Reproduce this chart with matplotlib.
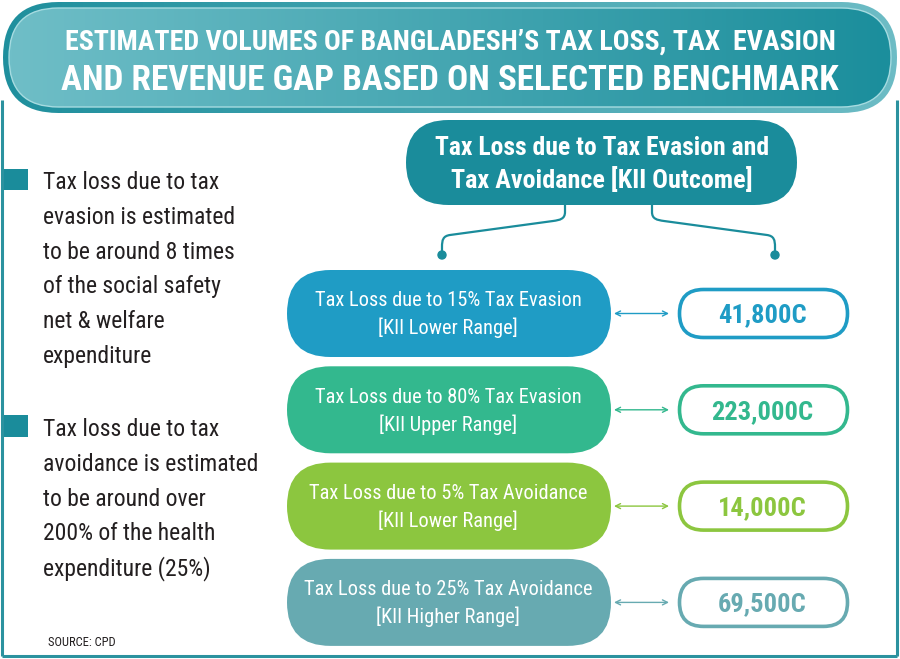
import numpy as np
import matplotlib
matplotlib.use("Agg")
import matplotlib.pyplot as plt
from matplotlib import font_manager
from matplotlib.patches import FancyBboxPatch, PathPatch, Rectangle, Circle
from matplotlib.path import Path
from matplotlib.colors import LinearSegmentedColormap

# ---- content ----
title_lines = ["ESTIMATED VOLUMES OF BANGLADESH\u2019S TAX LOSS, TAX  EVASION",
               "AND REVENUE GAP BASED ON SELECTED BENCHMARK"]
top_node = ["Tax Loss due to Tax Evasion and", "Tax Avoidance [KII Outcome]"]
row_titles = ["Tax Loss due to 15% Tax Evasion", "Tax Loss due to 80% Tax Evasion",
              "Tax Loss due to 5% Tax Avoidance", "Tax Loss due to 25% Tax Avoidance"]
row_ranges = ["[KII Lower Range]", "[KII Upper Range]", "[KII Lower Range]", "[KII Higher Range]"]
row_values = [41800, 223000, 14000, 69500]
row_colors = ["#1f9cc5", "#33b88e", "#8cc63f", "#67aab1"]
bullet_1 = ["Tax loss due to tax", "evasion is estimated", "to be around 8 times",
            "of the social safety", "net & welfare", "expenditure"]
bullet_2 = ["Tax loss due to tax", "avoidance is estimated", "to be around over",
            "200% of the health", "expenditure (25%)"]
source = "SOURCE: CPD"

teal = "#1a8c9b"
frame_c = "#2b929f"
ink = "#231f20"

# pick a narrow font if there is one
names = {f.name for f in font_manager.fontManager.ttflist}
FONT = "DejaVu Sans"
for cand in ["Liberation Sans Narrow", "DejaVu Sans Condensed", "Roboto Condensed",
             "Open Sans Condensed", "Roboto"]:
    if cand in names:
        FONT = cand
        break

fig = plt.figure(figsize=(9, 6.59), dpi=100)
ax = fig.add_axes([0, 0, 1, 1])
renderer = fig.canvas.get_renderer()


def fit_size(lines, size, width, weight="normal"):
    # largest size (up to `size`) at which the widest line is no wider than `width`
    t = ax.text(0, 0, "", fontsize=size, fontfamily=FONT, fontweight=weight)
    w = 0
    for s in lines:
        t.set_text(s)
        w = max(w, t.get_window_extent(renderer).width)
    t.remove()
    return min(size, size * width / w)


def put(x, y, s, size, width=None, exact=False, **kw):
    t = ax.text(x, y, s, fontsize=size, fontfamily=FONT, va="baseline", **kw)
    if width:
        w = t.get_window_extent(renderer).width
        new = size * width / w
        t.set_fontsize(new if exact else min(new, size * 1.1))
    return t


def pill(x, y, w, h, **kw):
    p = FancyBboxPatch((x, y), w, h, boxstyle="round,pad=0,rounding_size=%f" % (h / 2), **kw)
    ax.add_patch(p)
    return p


# ---- frame ----
ax.plot([2, 2], [100, 656], color=frame_c, lw=2.2, solid_capstyle="butt")
ax.plot([2, 897], [656, 656], color=frame_c, lw=2.2, solid_capstyle="butt")
ax.plot([897, 897], [100, 656], color=frame_c, lw=2.2, solid_capstyle="butt")

# ---- title banner ----
grad = np.linspace(0, 1, 256).reshape(1, -1)
outer = pill(3, 2, 894, 111, facecolor="none", edgecolor="none")
im = ax.imshow(grad, extent=(3, 897, 113, 2), aspect="auto",
               cmap=LinearSegmentedColormap.from_list("o", ["#1f8f9d", "#6dbcc5"]))
im.set_clip_path(outer)
inner = pill(9, 8, 882, 99, facecolor="none", edgecolor="#a6dbe0", lw=1.0, zorder=3)
im2 = ax.imshow(grad, extent=(9, 891, 107, 8), aspect="auto",
                cmap=LinearSegmentedColormap.from_list("i", ["#6fbec7", "#1b8e9c"]), zorder=2)
im2.set_clip_path(inner)
put(450, 50, title_lines[0], 23, width=773, exact=True, ha="center",
    color="white", fontweight="bold", zorder=4)
put(450, 90, title_lines[1], 28, width=778, exact=True, ha="center",
    color="white", fontweight="bold", zorder=4)

# ---- top node ----
pill(406, 120, 391, 85, facecolor=teal, edgecolor="none")
put(602, 155, top_node[0], 19, width=335, exact=True, ha="center", color="white", fontweight="bold")
put(602, 188, top_node[1], 19, width=302, exact=True, ha="center", color="white", fontweight="bold")

# connectors
for sx, ex in [(565, 442), (652, 775)]:
    d = -1 if ex < sx else 1
    verts = [(sx, 205), (sx, 212),
             (sx, 219), (sx + 5 * d, 220), (sx + 12 * d, 221),
             (ex - 8 * d, 235),
             (ex - 1 * d, 236), (ex, 240), (ex, 247),
             (ex, 255)]
    codes = [Path.MOVETO, Path.LINETO,
             Path.CURVE4, Path.CURVE4, Path.CURVE4,
             Path.LINETO,
             Path.CURVE4, Path.CURVE4, Path.CURVE4,
             Path.LINETO]
    ax.add_patch(PathPatch(Path(verts, codes), facecolor="none", edgecolor=teal, lw=1.6))
    ax.add_patch(Circle((ex, 255), 4, color=teal))

# ---- rows ----
row_top = 270
row_h = 87
row_step = 96.3
pill_fs = fit_size(row_titles + row_ranges, 18, 288)
val_fs = fit_size([f"{v:,}C" for v in row_values], 22, 102, weight="bold")
for i in range(len(row_values)):
    c = row_colors[i]
    y0 = row_top + i * row_step
    yc = y0 + row_h / 2
    pill(287, y0, 324, row_h, facecolor=c, edgecolor="none")
    put(448, yc - 7, row_titles[i], pill_fs, ha="center", color="white")
    put(448, yc + 21, row_ranges[i], pill_fs, ha="center", color="white")
    ax.annotate("", xy=(669, yc), xytext=(614, yc),
                arrowprops=dict(arrowstyle="<->", color=c, lw=1.0, mutation_scale=9,
                                shrinkA=0, shrinkB=0))
    pill(679.5, yc - 24, 168, 48, facecolor="white", edgecolor=c, lw=2.6)
    put(762, yc + 9, f"{row_values[i]:,}C", val_fs, ha="center",
        color=c, fontweight="bold")

# ---- bullets ----
body_fs = fit_size(bullet_1 + bullet_2, 19, 216)
ax.add_patch(Rectangle((2, 169), 26, 21, color=teal, lw=0))
for j, line in enumerate(bullet_1):
    put(43, 189 + j * 34.8, line, body_fs, color=ink)
ax.add_patch(Rectangle((2, 415), 26, 22, color=teal, lw=0))
for j, line in enumerate(bullet_2):
    put(43, 436 + j * 34.8, line, body_fs, color=ink)
put(48, 646, source, 9, color=ink)

ax.set_xlim(0, 900)
ax.set_ylim(659, 0)
ax.axis("off")
fig.savefig("out.png", dpi=100, facecolor="white")
